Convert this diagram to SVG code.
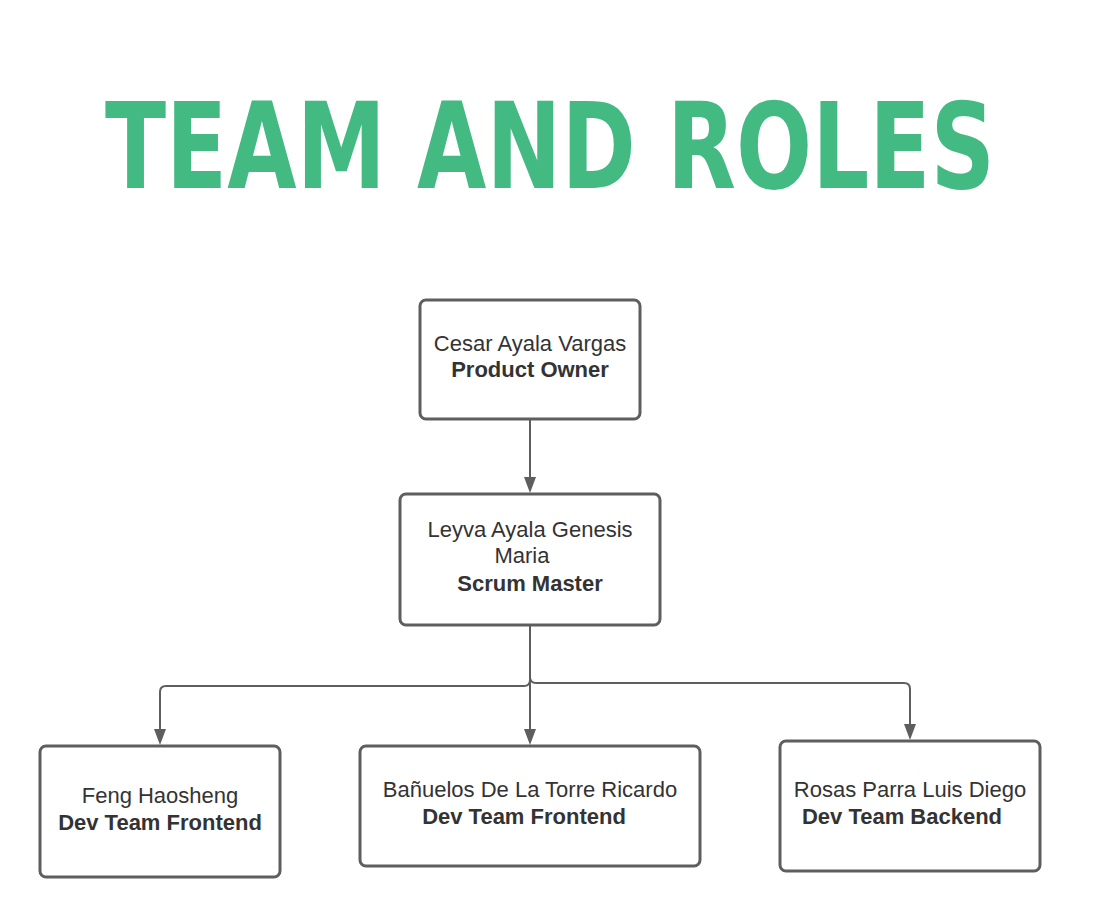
<svg xmlns="http://www.w3.org/2000/svg" width="1100" height="917" viewBox="0 0 1100 917">
<style>
.box{fill:#fff;stroke:#5e5e5e;stroke-width:3}
.t{font-family:"Liberation Sans",Arial,sans-serif;font-size:22px;fill:#333;text-anchor:middle}
.b{font-weight:bold}
.c{fill:none;stroke:#5e5e5e;stroke-width:2}
.title{font-family:"Comic Sans MS","DejaVu Sans",sans-serif;font-weight:bold;font-size:96px;fill:#44ba83}
</style>
<rect width="1100" height="917" fill="#fff"/>
<text id="title" class="title" x="0" y="0" transform="translate(105,188) scale(1,1.25)" textLength="890" lengthAdjust="spacingAndGlyphs">TEAM AND ROLES</text>
<g id="connectors">
<path class="c" d="M530,420 V478"/>
<path class="c" d="M530,626 V680 Q530,686 524,686 H166 Q160,686 160,692 V730"/>
<path class="c" d="M530,626 V730"/>
<path class="c" d="M530,626 V677 Q530,683 536,683 H904 Q910,683 910,689 V725"/>
<path d="M524,477 L536,477 L530,493 Z" fill="#5e5e5e"/>
<path d="M154,729 L166,729 L160,745 Z" fill="#5e5e5e"/>
<path d="M524,729 L536,729 L530,745 Z" fill="#5e5e5e"/>
<path d="M904,724 L916,724 L910,740 Z" fill="#5e5e5e"/>
</g>
<g id="po">
<rect class="box" x="420" y="300" width="220" height="119" rx="6"/>
<text class="t" x="530" y="351">Cesar Ayala Vargas</text>
<text class="t b" x="530" y="377">Product Owner</text>
</g>
<g id="sm">
<rect class="box" x="400" y="494" width="260" height="131" rx="6"/>
<text class="t" x="530" y="537">Leyva Ayala Genesis</text>
<text class="t" x="522" y="563">Maria</text>
<text class="t b" x="530" y="591">Scrum Master</text>
</g>
<g id="feng">
<rect class="box" x="40" y="746" width="240" height="131" rx="6"/>
<text class="t" x="160" y="803">Feng Haosheng</text>
<text class="t b" x="160" y="830">Dev Team Frontend</text>
</g>
<g id="banuelos">
<rect class="box" x="360" y="746" width="340" height="120" rx="6"/>
<text class="t" x="530" y="797">Bañuelos De La Torre Ricardo</text>
<text class="t b" x="524" y="824">Dev Team Frontend</text>
</g>
<g id="rosas">
<rect class="box" x="780" y="741" width="260" height="130" rx="6"/>
<text class="t" x="910" y="797">Rosas Parra Luis Diego</text>
<text class="t b" x="902" y="824">Dev Team Backend</text>
</g>
</svg>
